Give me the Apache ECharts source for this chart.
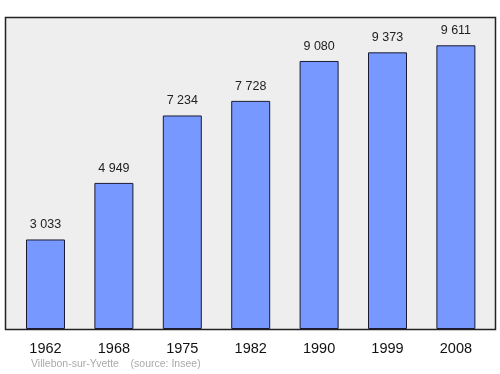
<!DOCTYPE html>
<html>
<head>
<meta charset="utf-8">
<script src="https://cdn.jsdelivr.net/npm/echarts@6/dist/echarts.min.js"></script>
<style>html,body{margin:0;padding:0;background:#fff;}#c{width:500px;height:374px;}</style>
</head>
<body>
<div id="c"></div>
<script>
var categories = ['1962', '1968', '1975', '1982', '1990', '1999', '2008'];
var population = [3033, 4949, 7234, 7728, 9080, 9373, 9611];
var footerText = 'Villebon-sur-Yvette    (source: Insee)';

var chart = echarts.init(document.getElementById('c'), null, {renderer: 'canvas'});
chart.setOption({
  animation: false,
  backgroundColor: '#ffffff',
  graphic: [
    {type: 'rect', z: -10, shape: {x: 5.5, y: 17.5, width: 490, height: 312},
     style: {fill: '#eeeeee', stroke: '#222222', lineWidth: 1.5}},
    {type: 'text', left: 31, top: 359, z: 10,
     style: {text: footerText, fill: '#aaaaaa', font: '10.5px "Liberation Sans", Arial, sans-serif'}}
  ],
  grid: {left: 11.3, right: 9.9, top: 17, bottom: 45, containLabel: false},
  xAxis: {
    type: 'category', data: categories,
    axisLine: {show: false}, axisTick: {show: false},
    axisLabel: {color: '#111', fontSize: 14.5, fontFamily: 'Liberation Sans, Arial, sans-serif', margin: 12}
  },
  yAxis: {
    type: 'value', min: 0, max: 10570, show: false, splitLine: {show: false}
  },
  series: [{
    type: 'bar', data: population, barWidth: '57%',
    itemStyle: {color: '#7799ff', borderColor: '#1a1a33', borderWidth: 1},
    label: {
      show: true, position: 'top', distance: 8, color: '#222', fontSize: 12.5,
      fontFamily: 'Liberation Sans, Arial, sans-serif',
      formatter: function (p) { return String(p.value).replace(/\B(?=(\d{3})+(?!\d))/g, ' '); }
    }
  }]
});
</script>
</body>
</html>
